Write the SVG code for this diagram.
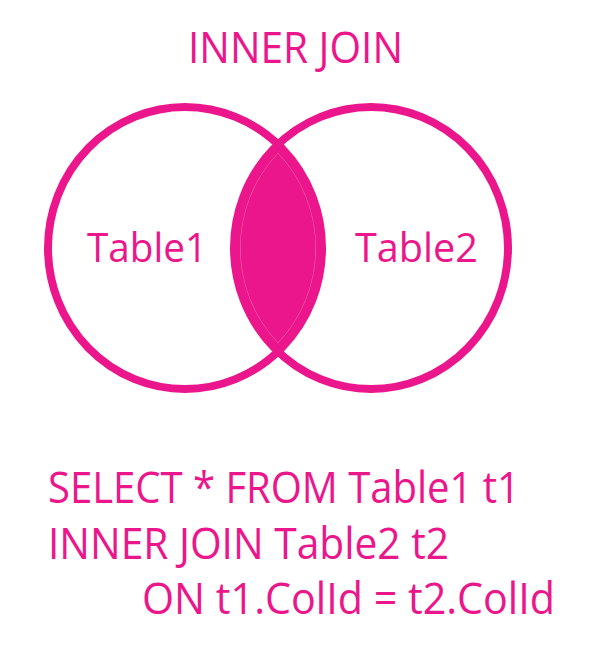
<svg xmlns="http://www.w3.org/2000/svg" width="600" height="668" viewBox="0 0 600 668">
  <style>
    .t { font-family: "Open Sans", "Noto Sans", "Liberation Sans", sans-serif; fill: #EC168C; }
    .ring { fill: none; stroke: #EC168C; stroke-width: 8; }
    .inner { fill: none; stroke: #F06FAE; stroke-width: 1; }
  </style>
  <defs>
    <clipPath id="clipRight"><ellipse cx="371" cy="248" rx="137" ry="141"/></clipPath>
    <clipPath id="clipRightIn"><ellipse cx="371" cy="248" rx="131" ry="135"/></clipPath>
    <clipPath id="clipLeftIn"><ellipse cx="185" cy="248" rx="131" ry="135"/></clipPath>
  </defs>
  <rect width="600" height="668" fill="#FFFFFF"/>

  <g id="title">
    <text class="t" x="188" y="63" font-size="43" textLength="215" lengthAdjust="spacingAndGlyphs">INNER JOIN</text>
  </g>

  <g id="intersection">
    <ellipse cx="185" cy="248" rx="137" ry="141" fill="#EC168C" clip-path="url(#clipRight)"/>
    <g clip-path="url(#clipRightIn)">
      <ellipse class="inner" cx="185" cy="248" rx="131" ry="135" clip-path="url(#clipLeftIn)"/>
    </g>
    <g clip-path="url(#clipLeftIn)">
      <ellipse class="inner" cx="371" cy="248" rx="131" ry="135" clip-path="url(#clipRightIn)"/>
    </g>
  </g>

  <g id="table1">
    <ellipse class="ring" cx="185" cy="248" rx="137" ry="141"/>
    <text class="t" x="87" y="262" font-size="41" textLength="120" lengthAdjust="spacingAndGlyphs">Table1</text>
  </g>

  <g id="table2">
    <ellipse class="ring" cx="371" cy="248" rx="137" ry="141"/>
    <text class="t" x="355" y="262" font-size="41" textLength="123" lengthAdjust="spacingAndGlyphs">Table2</text>
  </g>

  <g id="query">
    <text class="t" x="48" y="503" font-size="43" textLength="472" lengthAdjust="spacingAndGlyphs">SELECT * FROM Table1 t1</text>
    <text class="t" x="48" y="559" font-size="43" textLength="401" lengthAdjust="spacingAndGlyphs">INNER JOIN Table2 t2</text>
    <text class="t" x="142" y="614" font-size="43" textLength="413" lengthAdjust="spacingAndGlyphs">ON t1.ColId = t2.ColId</text>
  </g>
</svg>
